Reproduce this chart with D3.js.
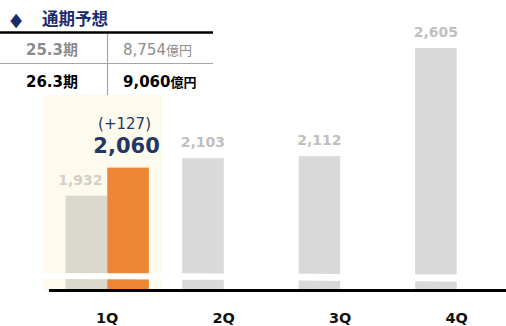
<!DOCTYPE html>
<html>
<head>
<meta charset="utf-8">
<script src="https://cdn.jsdelivr.net/npm/d3@7"></script>
<style>
  html, body { margin: 0; padding: 0; background: #fff; }
  svg { display: block; }
</style>
</head>
<body>
<svg id="chart" width="506" height="326"></svg>
<script>
// Quarterly figures (億円): prior year vs. current year forecast
const quarters = ["1Q", "2Q", "3Q", "4Q"];
const prevValues = [1932, 2103, 2112, 2605];
const currValues = [2060, null, null, null];
const diffLabels = ["(+127)", null, null, null];

// Full-year forecast table
const tableTitle = "通期予想";
const periods = ["25.3期", "26.3期"];
const totals = [8754, 9060];
const unit = "億円";

const NUM_FONT = "'DejaVu Sans', 'Noto Sans CJK JP', sans-serif";
const JP_FONT = "'Noto Sans CJK JP', 'DejaVu Sans', sans-serif";
const fmt = d3.format(",");

const svg = d3.select("#chart");

// Scales
const x = d3.scaleBand().domain(quarters).range([49, 515]).padding(0);
const xs = d3.scaleBand().domain(["prev", "curr"]).range([0, x.bandwidth()])
  .paddingInner(0).paddingOuter(0.4);
const y = d3.scaleLinear().domain([1500, 2605]).range([290.5, 48]);

// Highlighted current quarter background
const hi = quarters[0];
svg.append("rect")
  .attr("x", x(hi) + x.bandwidth() / 2 - 64.5)
  .attr("y", 95)
  .attr("width", 120)
  .attr("height", y.range()[0] - 95)
  .attr("fill", "#fffaee");

// Prior-year bars
svg.append("g").selectAll("rect")
  .data(quarters.map((q, i) => ({ q, v: prevValues[i], i })))
  .join("rect")
  .attr("x", d => x(d.q) + xs("prev"))
  .attr("y", d => y(d.v))
  .attr("width", xs.bandwidth())
  .attr("height", d => y.range()[0] - y(d.v))
  .attr("fill", d => d.q === hi ? "#dbd8ce" : "#d9d9d9");

// Current-year bars
const curr = quarters.map((q, i) => ({ q, v: currValues[i], i })).filter(d => d.v != null);
svg.append("g").selectAll("rect")
  .data(curr)
  .join("rect")
  .attr("x", d => x(d.q) + xs("curr"))
  .attr("y", d => y(d.v))
  .attr("width", xs.bandwidth())
  .attr("height", d => y.range()[0] - y(d.v))
  .attr("fill", "#ee8733");

// Axis break band
const x0 = 40, x1 = 500, base = y.range()[0];
svg.append("path")
  .attr("d", `M${x0},${base - 17} C${(x0 + x1) / 3},${base - 17.5} ${(x0 + x1) * 2 / 3},${base - 16.5} ${x1},${base - 15.5}
              L${x1},${base - 8.5} C${(x0 + x1) * 2 / 3},${base - 9.5} ${(x0 + x1) / 3},${base - 11} ${x0},${base - 11.5} Z`)
  .attr("fill", "#fff");

// Baseline
svg.append("line")
  .attr("x1", 49).attr("x2", 506)
  .attr("y1", base).attr("y2", base)
  .attr("stroke", "#000").attr("stroke-width", 3);

// Category labels
svg.append("g").selectAll("text")
  .data(quarters)
  .join("text")
  .attr("x", d => x(d) + x.bandwidth() / 2)
  .attr("y", 323)
  .attr("text-anchor", "middle")
  .attr("font-family", NUM_FONT)
  .attr("font-weight", "bold")
  .attr("font-size", 14.5)
  .attr("fill", "#111")
  .text(d => d);

// Prior-year value labels
svg.append("g").selectAll("text")
  .data(quarters.map((q, i) => ({ q, v: prevValues[i] })))
  .join("text")
  .attr("x", d => x(d.q) + xs("prev") + xs.bandwidth() / 2 - (d.q === hi ? 6 : 0))
  .attr("y", d => y(d.v) - 11)
  .attr("text-anchor", "middle")
  .attr("font-family", NUM_FONT)
  .attr("font-weight", "bold")
  .attr("font-size", 14)
  .attr("fill", d => d.q === hi ? "#d2cfc4" : "#bfbfbf")
  .text(d => fmt(d.v));

// Current-year value labels with change vs prior year
curr.forEach(d => {
  const cx = x(d.q) + xs("curr") + xs.bandwidth() / 2 - 1.5;
  svg.append("text")
    .attr("x", cx).attr("y", y(d.v) - 15)
    .attr("text-anchor", "middle")
    .attr("font-family", NUM_FONT)
    .attr("font-weight", "bold")
    .attr("font-size", 21)
    .attr("fill", "#1f3864")
    .text(fmt(d.v));
  svg.append("text")
    .attr("x", cx - 2).attr("y", y(d.v) - 39)
    .attr("text-anchor", "middle")
    .attr("font-family", NUM_FONT)
    .attr("font-size", 15)
    .attr("fill", "#1f3864")
    .text(diffLabels[d.i]);
});

// Forecast table
const tbl = svg.append("g");
tbl.append("text")
  .attr("x", 16).attr("y", 19)
  .attr("text-anchor", "middle")
  .attr("dominant-baseline", "central")
  .attr("font-family", NUM_FONT)
  .attr("font-size", 19)
  .attr("fill", "#1c2b6b")
  .attr("transform", "translate(16,0) scale(0.8,1) translate(-16,0)")
  .text("◆");
tbl.append("text")
  .attr("x", 42).attr("y", 25)
  .attr("font-family", JP_FONT)
  .attr("font-weight", "bold")
  .attr("font-size", 16.5)
  .attr("fill", "#1c2b6b")
  .text(tableTitle);

tbl.append("line").attr("x1", 0).attr("x2", 213).attr("y1", 32.5).attr("y2", 32.5)
  .attr("stroke", "#000").attr("stroke-width", 2.5);
tbl.append("line").attr("x1", 0).attr("x2", 213).attr("y1", 63.5).attr("y2", 63.5)
  .attr("stroke", "#a6a6a6").attr("stroke-width", 1.2);
tbl.append("line").attr("x1", 107.5).attr("x2", 107.5).attr("y1", 34).attr("y2", 95)
  .attr("stroke", "#a6a6a6").attr("stroke-width", 1.2);

const rowY = [55, 87];
const rowColor = ["#8c8c8c", "#000"];
periods.forEach((p, i) => {
  tbl.append("text")
    .attr("x", 26).attr("y", rowY[i])
    .attr("font-family", NUM_FONT)
    .attr("font-weight", "bold")
    .attr("font-size", 15)
    .attr("fill", rowColor[i])
    .text(p);
  const t = tbl.append("text")
    .attr("x", 123).attr("y", rowY[i])
    .attr("font-family", NUM_FONT)
    .attr("font-weight", i === 0 ? "normal" : "bold")
    .attr("font-size", 15)
    .attr("fill", rowColor[i]);
  t.append("tspan").text(fmt(totals[i]));
  t.append("tspan").attr("font-size", 13).attr("font-family", JP_FONT).text(unit);
});
</script>
</body>
</html>
